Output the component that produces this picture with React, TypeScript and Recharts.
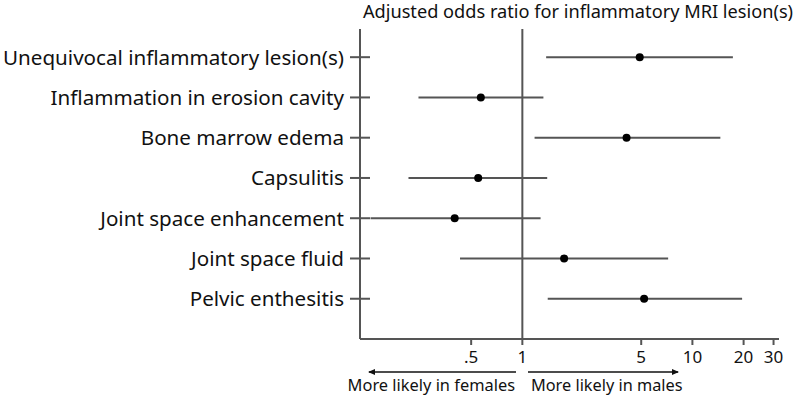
import React from "react";
import {
  ComposedChart,
  Scatter,
  XAxis,
  YAxis,
  ReferenceLine,
} from "recharts";

// Outcomes, top to bottom
const outcomes = [
  "Unequivocal inflammatory lesion(s)",
  "Inflammation in erosion cavity",
  "Bone marrow edema",
  "Capsulitis",
  "Joint space enhancement",
  "Joint space fluid",
  "Pelvic enthesitis",
];

// Adjusted odds ratios (male vs female) with 95% confidence limits
const oddsRatio = [4.9, 0.57, 4.1, 0.55, 0.4, 1.76, 5.2];
const ciLower = [1.38, 0.245, 1.18, 0.214, 0.128, 0.43, 1.41];
const ciUpper = [17.3, 1.33, 14.6, 1.4, 1.28, 7.2, 19.6];

// Log-scale x axis ticks and their labels
const xTicks = [0.5, 1, 5, 10, 20, 30];
const xTickLabels = [".5", "1", "5", "10", "20", "30"];

const rows = outcomes.map((name, i) => ({
  name,
  row: i + 1,
  or: oddsRatio[i],
  lo: ciLower[i],
  hi: ciUpper[i],
}));

const FONT = "'Noto Sans', sans-serif";
const AXIS_COLOR = "#555555";
const TEXT_COLOR = "#111111";

const YTick = (props: any) => {
  const { x, y, payload } = props;
  const label = outcomes[payload.value - 1] ?? "";
  return (
    <g>
      <line x1={x + 6} x2={x + 26} y1={y} y2={y} stroke={AXIS_COLOR} strokeWidth={2} />
      <text
        x={x}
        y={y}
        dy="0.36em"
        textAnchor="end"
        fontFamily={FONT}
        fontSize={20.6}
        fill={TEXT_COLOR}
      >
        {label}
      </text>
    </g>
  );
};

const Dot = (props: any) => {
  const { cx, cy } = props;
  return <circle cx={cx} cy={cy} r={4} fill="#000" />;
};

export default function App() {
  return (
    <div style={{ position: "absolute", left: 0, top: 0, width: 800, height: 397, background: "#fff" }}>
      <ComposedChart
        width={800}
        height={397}
        data={rows}
        margin={{ top: 29, right: 21, bottom: 0, left: 0 }}
      >
        <XAxis
          type="number"
          dataKey="or"
          scale="log"
          domain={[0.111, 32.3]}
          allowDataOverflow
          ticks={xTicks}
          interval={0}
          tickFormatter={(v: number) => xTickLabels[xTicks.indexOf(v)] ?? String(v)}
          height={58}
          tickSize={6}
          tickMargin={6}
          axisLine={{ stroke: AXIS_COLOR, strokeWidth: 2 }}
          tickLine={{ stroke: AXIS_COLOR, strokeWidth: 2 }}
          tick={{ fontFamily: FONT, fontSize: 17, fill: TEXT_COLOR }}
        />
        <YAxis
          type="number"
          dataKey="row"
          domain={[0.3, 8]}
          reversed
          allowDataOverflow
          ticks={[1, 2, 3, 4, 5, 6, 7]}
          interval={0}
          width={360}
          tickSize={10}
          tickMargin={6}
          tickLine={false}
          axisLine={{ stroke: AXIS_COLOR, strokeWidth: 2 }}
          tick={<YTick />}
        />
        <ReferenceLine x={1} stroke={AXIS_COLOR} strokeWidth={2} />
        {rows.map((r) => (
          <ReferenceLine
            key={r.name}
            segment={[
              { x: r.lo, y: r.row },
              { x: r.hi, y: r.row },
            ]}
            stroke={AXIS_COLOR}
            strokeWidth={2}
            ifOverflow="visible"
          />
        ))}
        <Scatter dataKey="row" fill="#000" shape={<Dot />} isAnimationActive={false} />
      </ComposedChart>
      <svg
        width={800}
        height={397}
        style={{ position: "absolute", left: 0, top: 0, pointerEvents: "none" }}
      >
        <defs>
          <marker id="arrowHead" markerWidth="8" markerHeight="8" refX="6" refY="4" orient="auto-start-reverse" markerUnits="userSpaceOnUse">
            <path d="M0,1 L7,4 L0,7 Z" fill={TEXT_COLOR} />
          </marker>
        </defs>
        <text x={578} y={18} textAnchor="middle" fontFamily={FONT} fontSize={18.2} fill={TEXT_COLOR}>
          Adjusted odds ratio for inflammatory MRI lesion(s)
        </text>
        <line x1={369} x2={516} y1={372} y2={372} stroke={TEXT_COLOR} strokeWidth={1.6} markerStart="url(#arrowHead)" />
        <line x1={528} x2={678} y1={372} y2={372} stroke={TEXT_COLOR} strokeWidth={1.6} markerEnd="url(#arrowHead)" />
        <text x={515} y={391} textAnchor="end" fontFamily={FONT} fontSize={16.4} fill={TEXT_COLOR}>
          More likely in females
        </text>
        <text x={531} y={391} textAnchor="start" fontFamily={FONT} fontSize={16.3} fill={TEXT_COLOR}>
          More likely in males
        </text>
      </svg>
    </div>
  );
}
